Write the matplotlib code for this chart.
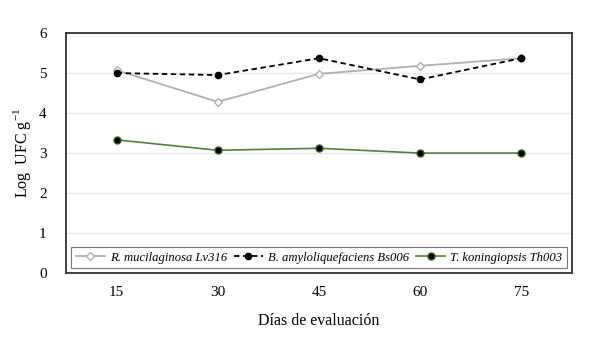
import matplotlib.pyplot as plt
import numpy as np

dias = ['15', '30', '45', '60', '75']
rhodo = [5.07, 4.28, 4.98, 5.18, 5.37]
bacillus = [5.00, 4.95, 5.37, 4.84, 5.37]
tricho = [3.33, 3.07, 3.12, 3.00, 3.00]

plt.rcParams['font.family'] = ['Liberation Serif', 'DejaVu Serif']
plt.rcParams['mathtext.fontset'] = 'custom'
plt.rcParams['mathtext.rm'] = 'Liberation Serif'

fig = plt.figure(figsize=(5.9, 3.44), dpi=100)
ax = fig.add_axes([0.112, 0.206, 0.857, 0.698])

x = np.arange(len(dias))
ax.plot(x, rhodo, color='#b0b0b0', linewidth=1.3, marker='D', markersize=4,
        markerfacecolor='white', markeredgecolor='#b0b0b0',
        label='R. mucilaginosa Lv316')
ax.plot(x, bacillus, color='black', linewidth=1.3, linestyle=(0, (3, 2)), marker='o',
        markersize=4.5, markerfacecolor='black', markeredgecolor='black',
        label='B. amyloliquefaciens Bs006')
ax.plot(x, tricho, color='#548235', linewidth=1.2, marker='o', markersize=5,
        markerfacecolor='black', markeredgecolor='#3a5a22',
        label='T. koningiopsis Th003')

ax.set_xlim(-0.5, 4.5)
ax.set_ylim(0, 6)
ax.set_xticks(x)
ax.set_xticklabels(dias)
ax.set_yticks(range(0, 7))
ax.tick_params(length=0, labelsize=11, pad=9)
ax.tick_params(axis='y', pad=14)
ax.grid(axis='y', color='#e6e6e6', linewidth=1)
ax.set_axisbelow(True)
for s in ax.spines.values():
    s.set_color('#333333')
    s.set_linewidth(1.3)

ax.set_xlabel('Días de evaluación', fontsize=11.5, labelpad=10)
ax.set_ylabel(r'Log  UFC g$^{\mathregular{-1}}$', fontsize=11.5, labelpad=4)

leg = ax.legend(loc='lower center', ncol=3, frameon=True, fancybox=False,
                handlelength=2.3, columnspacing=0.55, handletextpad=0.4,
                borderpad=0.35, borderaxespad=0.2, bbox_to_anchor=(0.5, 0.01),
                prop={'family': 'Liberation Serif', 'style': 'italic', 'size': 9.1})
leg.get_frame().set_edgecolor('#555555')
leg.get_frame().set_linewidth(0.8)

fig.savefig('out.png', dpi=100)
